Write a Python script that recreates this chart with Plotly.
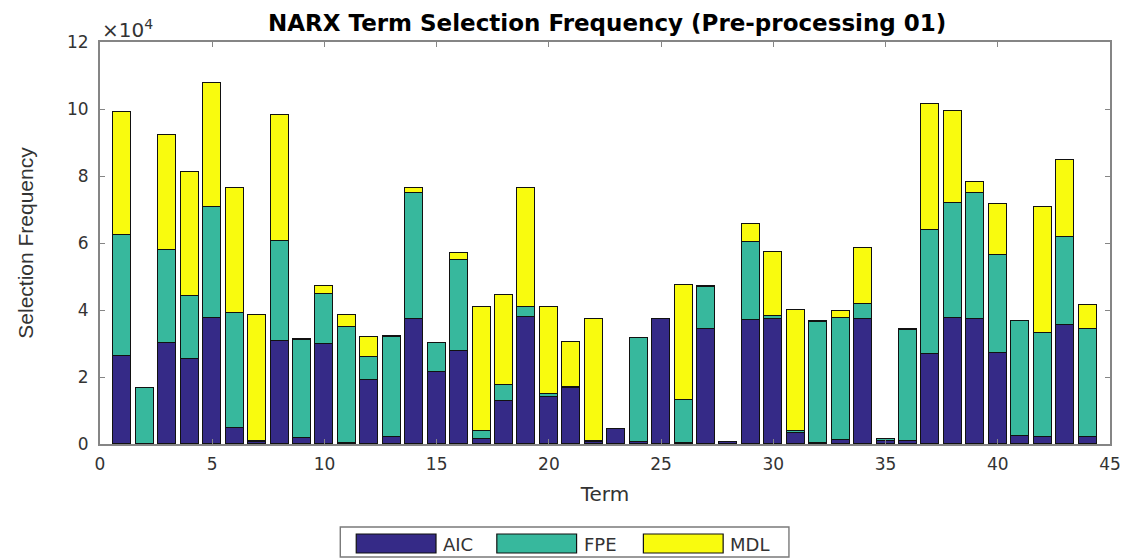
import plotly.graph_objects as go

# Term indices 1..44
terms = list(range(1, 45))

# Selection counts per criterion (stacked), raw counts
aic = [26200, 0, 30300, 25500, 37600, 4800, 500, 30800, 1800, 30000,
       300, 19100, 2000, 37400, 21500, 27900, 1600, 12700, 37900, 14000,
       16800, 600, 4600, 600, 37400, 300, 34200, 600, 36900, 37200,
       3300, 300, 1100, 37400, 1000, 800, 27000, 37700, 37400, 27300,
       2500, 2100, 35400, 2000]
fpe = [36200, 16800, 27600, 18800, 33200, 34300, 300, 29800, 29100, 14900,
       34700, 6900, 30000, 37500, 8700, 27100, 2200, 4900, 3000, 1000,
       300, 200, 0, 30900, 0, 12700, 12600, 0, 23300, 900,
       500, 36000, 36600, 4500, 500, 33200, 37000, 34200, 37500, 29100,
       34100, 31100, 26500, 32200]
mdl = [36600, 0, 34200, 36900, 37100, 37400, 37600, 37500, 300, 2200,
       3500, 5800, 300, 1600, 0, 1900, 37100, 27000, 35600, 25900,
       13400, 36600, 0, 0, 0, 34600, 300, 0, 5400, 19300,
       36100, 300, 2000, 16500, 0, 200, 37500, 27400, 3300, 15200,
       0, 37600, 22800, 7200]

series = [("AIC", aic, "#352a87"), ("FPE", fpe, "#37b89d"), ("MDL", mdl, "#f9fb0e")]

ytick_vals = [0, 20000, 40000, 60000, 80000, 100000, 120000]
ytick_text = ["0", "2", "4", "6", "8", "10", "12"]
xtick_vals = [0, 5, 10, 15, 20, 25, 30, 35, 40, 45]

fig = go.Figure()
for name, vals, color in series:
    fig.add_trace(go.Bar(
        x=terms, y=vals, name=name, width=0.8,
        marker=dict(color=color, line=dict(color="#111111", width=1.2)),
        showlegend=False,
    ))

font_wide = "DejaVu Sans, Verdana, sans-serif"
font_plain = "Liberation Sans, Arial, Helvetica, sans-serif"
axis_color = "#858585"
text_color = "#333333"

fig.update_layout(
    width=1133, height=559,
    barmode="stack",
    bargap=0,
    plot_bgcolor="white",
    paper_bgcolor="white",
    margin=dict(l=100, r=20, t=42, b=115),
    font=dict(family=font_wide, size=16, color=text_color),
    xaxis=dict(
        range=[0, 45], tickvals=xtick_vals, ticks="inside", ticklen=5,
        tickcolor=axis_color, showline=True, linecolor=axis_color, linewidth=1.8,
        mirror="ticks", showgrid=False, zeroline=False,
        tickfont=dict(size=17, color=text_color, family=font_wide),
        ticklabelstandoff=4,
        title=dict(text="Term", font=dict(size=20, color=text_color, family=font_wide),
                   standoff=14),
    ),
    yaxis=dict(
        range=[0, 120000], tickvals=ytick_vals, ticktext=ytick_text,
        ticks="inside", ticklen=5, tickcolor=axis_color,
        showline=True, linecolor=axis_color, linewidth=1.8, mirror="ticks",
        showgrid=False, zeroline=False,
        tickfont=dict(size=17, color=text_color, family=font_wide),
        ticklabelstandoff=6,
        title=dict(text="Selection Frequency",
                   font=dict(size=21, color=text_color, family=font_plain),
                   standoff=28),
    ),
)

# Title and axis exponent
fig.add_annotation(text="<b>NARX Term Selection Frequency (Pre-processing 01)</b>",
                   xref="paper", yref="paper", x=0.502, y=1.0, xanchor="center",
                   yanchor="bottom", yshift=4, showarrow=False,
                   font=dict(size=23, color="#000000", family=font_wide))
fig.add_annotation(text="×10<sup>4</sup>", xref="paper", yref="paper",
                   x=0.0, y=1.0, xanchor="left", yanchor="bottom", yshift=-2,
                   showarrow=False, font=dict(size=20, color=text_color, family=font_wide))

# Legend drawn below the axis: framed row of wide swatches
def px_to_paper_x(px):
    return (px - 100) / 1013.0

def px_to_paper_y(py):
    return (444 - py) / 402.0

fig.add_shape(type="rect", xref="paper", yref="paper",
              x0=px_to_paper_x(341), x1=px_to_paper_x(791),
              y0=px_to_paper_y(557), y1=px_to_paper_y(527),
              line=dict(color="#7a7a7a", width=1.4), fillcolor="white")
swatch_left = [357, 498, 645]
for (name, _, color), sx in zip(series, swatch_left):
    fig.add_shape(type="rect", xref="paper", yref="paper",
                  x0=px_to_paper_x(sx), x1=px_to_paper_x(sx + 80),
                  y0=px_to_paper_y(553), y1=px_to_paper_y(534),
                  line=dict(color="#111111", width=1.2), fillcolor=color)
    fig.add_annotation(text=name, xref="paper", yref="paper",
                       x=px_to_paper_x(sx + 85), y=px_to_paper_y(544),
                       xanchor="left", yanchor="middle", showarrow=False,
                       font=dict(size=18, color=text_color, family=font_wide))

fig.write_html("out.html")
